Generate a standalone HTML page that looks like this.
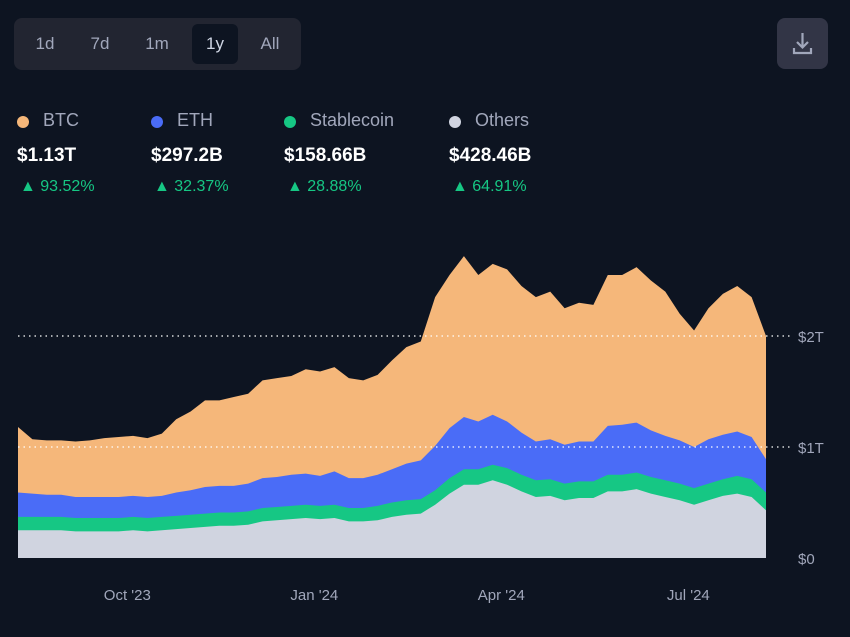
<!DOCTYPE html>
<html><head><meta charset="utf-8">
<style>
body{margin:0;background:#0d1421;width:850px;height:637px;overflow:hidden;font-family:"Liberation Sans",sans-serif;position:relative}
.tb{position:absolute;left:14px;top:18px;width:287px;height:52px;background:#222531;border-radius:8px}
.btn{position:absolute;top:6px;height:40px;line-height:40px;color:#a1a7bb;font-size:17px;text-align:center;width:46px;border-radius:6px}
.sel{background:#0d1421;color:#cfd6e4}
.dl{position:absolute;left:777px;top:18px;width:51px;height:51px;background:#323546;border-radius:8px}
.lg{position:absolute;top:110px}
.dot{position:absolute;top:6px;width:12px;height:12px;border-radius:50%}
.ln{position:absolute;left:26px;top:0;color:#a1a7bb;font-size:18px;white-space:nowrap}
.val{position:absolute;left:0;top:35px;color:#fff;font-size:19px;font-weight:bold;white-space:nowrap}
.pct{position:absolute;left:3px;top:68px;color:#16c784;font-size:16px;white-space:nowrap}
</style></head><body>
<div class="tb">
<div class="btn" style="left:8px">1d</div>
<div class="btn" style="left:63px">7d</div>
<div class="btn" style="left:120px">1m</div>
<div class="btn sel" style="left:178px">1y</div>
<div class="btn" style="left:233px">All</div>
</div>
<div class="dl">
<svg width="51" height="51"><path d="M25.5 15v14M20 24l5.5 5.5L31 24M17 30v5h17v-5" stroke="#a1a7bb" stroke-width="2.2" fill="none"/></svg></div>

<div class="lg" style="left:17px"><div class="dot" style="background:#f5b77a"></div><div class="ln">BTC</div><div class="val">$1.13T</div><div class="pct">▲ 93.52%</div></div>
<div class="lg" style="left:151px"><div class="dot" style="background:#4a6cf7"></div><div class="ln">ETH</div><div class="val">$297.2B</div><div class="pct">▲ 32.37%</div></div>
<div class="lg" style="left:284px"><div class="dot" style="background:#16c784"></div><div class="ln">Stablecoin</div><div class="val">$158.66B</div><div class="pct">▲ 28.88%</div></div>
<div class="lg" style="left:449px"><div class="dot" style="background:#d0d4e0"></div><div class="ln">Others</div><div class="val">$428.46B</div><div class="pct">▲ 64.91%</div></div>

<svg id="ch" width="850" height="637" style="position:absolute;left:0;top:0"></svg>
<script>
const others=[.25,.25,.25,.25,.24,.24,.24,.24,.25,.24,.25,.26,.27,.28,.29,.29,.30,.33,.34,.35,.36,.35,.36,.33,.33,.34,.37,.39,.40,.48,.58,.66,.66,.70,.66,.60,.55,.56,.52,.54,.54,.60,.60,.62,.58,.55,.52,.48,.52,.56,.58,.55,.43];
const stable=[.12,.12,.12,.12,.12,.12,.12,.12,.12,.12,.12,.12,.12,.12,.12,.12,.12,.12,.12,.12,.12,.12,.12,.12,.12,.13,.13,.13,.13,.13,.14,.14,.14,.14,.15,.15,.15,.15,.15,.15,.15,.15,.15,.15,.15,.15,.15,.15,.15,.15,.16,.16,.16];
const eth=[.22,.21,.20,.20,.19,.19,.19,.19,.19,.19,.19,.21,.22,.24,.24,.24,.25,.27,.27,.28,.28,.27,.30,.27,.27,.28,.30,.33,.35,.40,.45,.47,.43,.45,.42,.38,.35,.36,.35,.36,.36,.44,.45,.45,.42,.40,.39,.37,.40,.40,.40,.38,.30];
const btc=[.59,.49,.49,.49,.50,.51,.53,.54,.54,.53,.56,.66,.71,.78,.77,.80,.81,.88,.89,.89,.94,.94,.94,.90,.88,.90,.98,1.05,1.07,1.34,1.38,1.45,1.32,1.36,1.37,1.32,1.30,1.33,1.23,1.25,1.23,1.36,1.35,1.40,1.35,1.30,1.14,1.05,1.18,1.27,1.31,1.26,1.11];
const yTicks=[0,1,2];
const yLabels=["$0","$1T","$2T"];
const xTickWeeks=[7.6,20.6,33.6,46.6];
const xLabels=["Oct '23","Jan '24","Apr '24","Jul '24"];
const svg=document.getElementById('ch');const NS='http://www.w3.org/2000/svg';
const n=btc.length;
const X=i=>18+i*(766-18)/(n-1);
const Y=v=>558-v*111;
function mk(t,a){const e=document.createElementNS(NS,t);for(const k in a)e.setAttribute(k,a[k]);svg.appendChild(e);return e;}
const series=[[others,'#d0d4e0','area-others'],[stable,'#16c784','area-stablecoin'],[eth,'#4a6cf7','area-eth'],[btc,'#f5b77a','area-btc']];
let base=new Array(n).fill(0);
const layers=[];
series.forEach(s=>{const top=base.map((b,i)=>b+s[0][i]);layers.push([base,top,s[1],s[2]]);base=top;});
layers.reverse().forEach(l=>{
  const [b,t,c,name]=l;
  let d='M'+X(0)+','+Y(0);
  for(let i=0;i<n;i++)d+=' L'+X(i)+','+Y(t[i]);
  d+=' L'+X(n-1)+','+Y(0)+' Z';
  const p=mk('path',{d:d,fill:c});
  
  
});
yTicks.forEach((v,i)=>{
  if(v>0){const g=mk('line',{x1:18,x2:790,y1:Y(v),y2:Y(v),stroke:'#ffffff','stroke-width':1.2,'stroke-dasharray':'1.5,4'});
  
  }
  const t=mk('text',{x:798,y:Y(v)+6,fill:'#a1a7bb','font-size':15,'font-family':'Liberation Sans'});
  t.textContent=yLabels[i];
  
  
});
xTickWeeks.forEach((w,i)=>{
  const t=mk('text',{x:X(w),y:600,fill:'#a1a7bb','font-size':15,'text-anchor':'middle','font-family':'Liberation Sans'});
  t.textContent=xLabels[i];
  
  
});
</script>
</body></html>
